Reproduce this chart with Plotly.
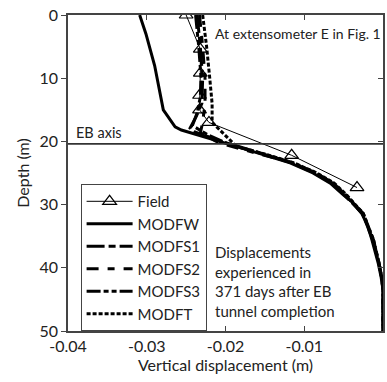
import plotly.graph_objects as go

# ---------------- data ----------------
FIELD_DEPTH = [0, 5.4, 9.2, 12.7, 15.0, 17.0, 22.2, 27.3]
FIELD_DISP = [-0.0250, -0.0232, -0.0232, -0.0233, -0.0233, -0.0221, -0.0116, -0.0033]

MODFW_DEPTH = [0, 3, 8, 15, 17.7, 18.2, 21.3, 23.4, 25.0, 26.6, 28.5, 29.5, 31.4, 33.5, 35.6, 39.3, 41.4, 43.5, 50]
MODFW_DISP = [-0.0309, -0.0301, -0.0290, -0.0279, -0.0264, -0.0256, -0.0173, -0.0118, -0.0089, -0.0067,
              -0.0050, -0.0040, -0.0027, -0.0019, -0.0014, -0.0006, -0.00025, 0.0, 0.0]

MODFS1_DEPTH = [0, 5, 10, 14, 16, 17.9, 18.5, 20, 21.3, 23.4, 25, 26.6, 28.5, 31.4, 35.6, 39.3, 42, 44, 50]
MODFS1_DISP = [-0.0236, -0.0232, -0.0229, -0.0230, -0.0237, -0.0245, -0.0239, -0.0205, -0.0170, -0.0116,
               -0.0087, -0.0065, -0.0049, -0.0026, -0.0013, -0.0005, -0.0001, 0.0, 0.0]

MODFS2_DEPTH = [0, 5, 10, 14, 17, 18.7, 20.3, 22, 23.4, 25, 26.6, 28.5, 31.4, 35.6, 39.3, 42, 44, 50]
MODFS2_DISP = [-0.0233, -0.0229, -0.0226, -0.0226, -0.0229, -0.0232, -0.0207, -0.0155, -0.0115, -0.0086,
               -0.0064, -0.0048, -0.0026, -0.0013, -0.0005, -0.0001, 0.0, 0.0]

MODFS3_DEPTH = [0, 5, 10, 13, 15.5, 17.5, 19, 20.5, 22, 23.4, 25, 26.6, 28.5, 31.4, 35.6, 39.3, 42, 44, 50]
MODFS3_DISP = [-0.0238, -0.0234, -0.0231, -0.0232, -0.0236, -0.0242, -0.0222, -0.0195, -0.0152, -0.0114,
               -0.0085, -0.0063, -0.0047, -0.0025, -0.0012, -0.0005, -0.0001, 0.0, 0.0]

MODFT_DEPTH = [0, 5, 10, 14, 17, 18.7, 20.8, 22, 23.4, 25, 26.6, 28.5, 31.4, 35.6, 39.3, 42, 44, 50]
MODFT_DISP = [-0.0229, -0.0224, -0.0220, -0.0217, -0.0217, -0.0203, -0.0186, -0.0150, -0.0113, -0.0084,
              -0.0062, -0.0046, -0.0025, -0.0012, -0.0005, -0.0001, 0.0, 0.0]

EB_AXIS_DEPTH = 20.4
X_TICKS = [-0.04, -0.03, -0.02, -0.01, 0]
X_TICK_LABELS = ["-0.04", "-0.03", "-0.02", "-0.01", "0"]
Y_TICKS = [0, 10, 20, 30, 40, 50]

FONT = "Lato"
AX_COL = "#444444"
TXT_COL = "#222222"

fig = go.Figure()

fig.add_trace(go.Scatter(x=FIELD_DISP, y=FIELD_DEPTH, name="Field", mode="lines+markers",
                         line=dict(color="black", width=1),
                         marker=dict(symbol="triangle-up-open", size=12, color="black",
                                     line=dict(width=1.2))))
fig.add_trace(go.Scatter(x=MODFW_DISP, y=MODFW_DEPTH, name="MODFW", mode="lines",
                         line=dict(color="black", width=3)))
fig.add_trace(go.Scatter(x=MODFS1_DISP, y=MODFS1_DEPTH, name="MODFS1", mode="lines",
                         line=dict(color="black", width=3, dash="18px,4px,7px,4px")))
fig.add_trace(go.Scatter(x=MODFS2_DISP, y=MODFS2_DEPTH, name="MODFS2", mode="lines",
                         line=dict(color="black", width=3, dash="12px,9px,7px,9px")))
fig.add_trace(go.Scatter(x=MODFS3_DISP, y=MODFS3_DEPTH, name="MODFS3", mode="lines",
                         line=dict(color="black", width=3, dash="14px,3px,5px,3px,5px,3px")))
fig.add_trace(go.Scatter(x=MODFT_DISP, y=MODFT_DEPTH, name="MODFT", mode="lines",
                         line=dict(color="black", width=3, dash="4px,2px")))

# invisible trace to create the right-hand y axis (inside ticks)
fig.add_trace(go.Scatter(x=[None], y=[None], yaxis="y2", showlegend=False, hoverinfo="skip"))

fig.add_hline(y=EB_AXIS_DEPTH, line=dict(color="#333333", width=1.8))

fig.add_annotation(x=-0.00005, y=3.0, text="At extensometer E in Fig. 1", showarrow=False,
                   xanchor="right", yanchor="middle", font=dict(size=14, color=TXT_COL, family=FONT))
fig.add_annotation(x=-0.0392, y=18.6, text="EB axis", showarrow=False,
                   xanchor="left", yanchor="middle", font=dict(size=14.5, color=TXT_COL, family=FONT))
fig.add_annotation(x=-0.0216, y=42.1,
                   text="Displacements<br>experienced in<br>371 days after EB<br>tunnel completion",
                   showarrow=False, align="left", xanchor="left", yanchor="middle",
                   font=dict(size=15, color=TXT_COL, family=FONT))

fig.update_layout(
    width=387, height=382,
    margin=dict(l=68, r=4, t=15, b=51, autoexpand=False),
    paper_bgcolor="white", plot_bgcolor="white",
    font=dict(family=FONT, size=16, color=TXT_COL),
    showlegend=True,
    legend=dict(x=0.04, y=0.465, xanchor="left", yanchor="top",
                bgcolor="white", bordercolor=AX_COL, borderwidth=1,
                font=dict(size=15, family=FONT, color=TXT_COL),
                tracegroupgap=0, itemwidth=46),
    xaxis=dict(range=[-0.04, 0], tickvals=X_TICKS, ticktext=X_TICK_LABELS,
               ticks="inside", ticklen=5, tickcolor=AX_COL, mirror="ticks", automargin=False,
               showline=True, linecolor=AX_COL, linewidth=1.5, showgrid=False, zeroline=False,
               tickfont=dict(size=16),
               title=dict(text="Vertical displacement (m)", standoff=4, font=dict(size=16))),
    yaxis=dict(range=[50, 0], tickvals=Y_TICKS, ticks="outside", ticklen=5, tickcolor=AX_COL,
               mirror=True, showline=True, linecolor=AX_COL, linewidth=1.5, automargin=False,
               showgrid=False, zeroline=False, tickfont=dict(size=16),
               title=dict(text="Depth (m)", standoff=6, font=dict(size=16))),
    yaxis2=dict(range=[50, 0], tickvals=Y_TICKS, overlaying="y", side="right", automargin=False,
                ticks="inside", ticklen=5, tickcolor=AX_COL, showticklabels=False,
                showline=False, showgrid=False, zeroline=False),
)

fig.write_html("out.html")
